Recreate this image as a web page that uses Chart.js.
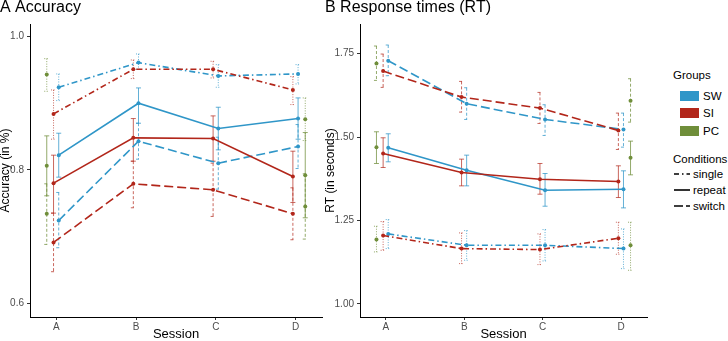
<!DOCTYPE html>
<html>
<head>
<meta charset="utf-8">
<script src="https://cdn.jsdelivr.net/npm/chart.js@4.4.1/dist/chart.umd.min.js"></script>
<style>
    body { margin: 0; width: 728px; height: 341px; background: #fff; position: relative; overflow: hidden;
           font-family: "Liberation Sans", Arial, sans-serif; }
    .panel { position: absolute; top: 0; width: 325px; height: 341px; }
    #panelA { left: 0; }
    #panelB { left: 325px; }
    .lg { position: absolute; font-size: 11.5px; color: #000; line-height: 12px; white-space: nowrap; }
    .sw { position: absolute; left: 680px; width: 19px; height: 10px; }
    .ln { position: absolute; left: 674px; }
</style>
</head>
<body>
<div class="panel" id="panelA"><canvas id="accChart"></canvas></div>
<div class="panel" id="panelB"><canvas id="rtChart"></canvas></div>

<div class="lg" style="left:673px; top:69px;">Groups</div>
<div class="sw" style="top:91px; background:#2F96C8;"></div>
<div class="lg" style="left:703px; top:90px;">SW</div>
<div class="sw" style="top:108px; background:#B2261A;"></div>
<div class="lg" style="left:703px; top:107px;">SI</div>
<div class="sw" style="top:126px; background:#6F8E3A;"></div>
<div class="lg" style="left:703px; top:125px;">PC</div>

<div class="lg" style="left:673px; top:153px;">Conditions</div>
<svg class="ln" style="top:171px" width="16" height="6"><line x1="0" y1="3" x2="16" y2="3" stroke="#000" stroke-width="1.6" stroke-dasharray="5,3,1.5,3"/></svg>
<div class="lg" style="left:693px; top:168px;">single</div>
<svg class="ln" style="top:187px" width="16" height="6"><line x1="0" y1="3" x2="16" y2="3" stroke="#000" stroke-width="1.6"/></svg>
<div class="lg" style="left:693px; top:184px;">repeat</div>
<svg class="ln" style="top:203px" width="16" height="6"><line x1="0" y1="3" x2="16" y2="3" stroke="#000" stroke-width="1.6" stroke-dasharray="9,3"/></svg>
<div class="lg" style="left:693px; top:200px;">switch</div>

<script>
const sessions = ['A', 'B', 'C', 'D'];
const accTicks = [0.6, 0.8, 1.0];
const rtTicks = [1.00, 1.25, 1.50, 1.75];

// Accuracy (A) -- null where the group was not tested
const accSWsingle = [0.924, 0.961, 0.941, 0.944];
const accSWsingleCI = [[0.904, 0.944], [0.951, 0.974], [0.924, 0.958], [0.929, 0.958]];
const accSIsingle = [0.884, 0.951, 0.951, 0.920];
const accSIsingleCI = [[0.846, 0.920], [0.937, 0.965], [0.938, 0.963], [0.898, 0.940]];
const accPCsingle = [0.943, null, null, 0.876];
const accPCsingleCI = [[0.918, 0.967], null, null, [0.844, 0.908]];

const accSWrepeat = [0.822, 0.900, 0.862, 0.877];
const accSWrepeatCI = [[0.789, 0.855], [0.870, 0.923], [0.830, 0.894], [0.846, 0.908]];
const accSIrepeat = [0.780, 0.848, 0.847, 0.790];
const accSIrepeatCI = [[0.735, 0.822], [0.813, 0.877], [0.813, 0.881], [0.751, 0.828]];
const accPCrepeat = [0.806, null, null, 0.792];
const accPCrepeatCI = [[0.761, 0.851], null, null, [0.728, 0.856]];

const accSWswitch = [0.724, 0.843, 0.810, 0.835];
const accSWswitchCI = [[0.683, 0.766], [0.816, 0.870], [0.771, 0.849], [0.802, 0.868]];
const accSIswitch = [0.691, 0.779, 0.770, 0.734];
const accSIswitchCI = [[0.647, 0.735], [0.743, 0.813], [0.730, 0.810], [0.695, 0.773]];
const accPCswitch = [0.734, null, null, 0.745];
const accPCswitchCI = [[0.688, 0.779], null, null, [0.696, 0.794]];

// Response times (B)
const rtSWsingle = [1.210, 1.176, 1.176, 1.166];
const rtSWsingleCI = [[1.166, 1.253], [1.131, 1.220], [1.129, 1.223], [1.106, 1.225]];
const rtSIsingle = [1.205, 1.166, 1.163, 1.197];
const rtSIsingleCI = [[1.161, 1.247], [1.121, 1.213], [1.118, 1.210], [1.149, 1.245]];
const rtPCsingle = [1.193, null, null, 1.176];
const rtPCsingleCI = [[1.156, 1.233], null, null, [1.101, 1.245]];

const rtSWrepeat = [1.468, 1.401, 1.341, 1.344];
const rtSWrepeatCI = [[1.426, 1.510], [1.354, 1.446], [1.293, 1.391], [1.288, 1.399]];
const rtSIrepeat = [1.451, 1.394, 1.374, 1.367];
const rtSIrepeatCI = [[1.409, 1.498], [1.354, 1.434], [1.329, 1.421], [1.319, 1.414]];
const rtPCrepeat = [1.470, null, null, 1.438];
const rtPCrepeatCI = [[1.421, 1.516], null, null, [1.387, 1.488]];

const rtSWswitch = [1.729, 1.600, 1.553, 1.523];
const rtSWswitchCI = [[1.684, 1.776], [1.553, 1.648], [1.505, 1.597], [1.470, 1.572]];
const rtSIswitch = [1.698, 1.620, 1.587, 1.520];
const rtSIswitchCI = [[1.649, 1.749], [1.575, 1.667], [1.541, 1.634], [1.463, 1.572]];
const rtPCswitch = [1.721, null, null, 1.609];
const rtPCswitchCI = [[1.670, 1.773], null, null, [1.545, 1.675]];

const colors = { SW: '#2F96C8', SI: '#B2261A', PC: '#6F8E3A' };
const errColors = { SW: 'rgba(47,150,200,0.75)', SI: 'rgba(178,38,26,0.7)', PC: 'rgba(111,142,58,0.75)' };
const lineDash = { single: [6, 3, 1.5, 3], repeat: [], switch: [9, 4] };
const errDash = { single: [1, 1.5], repeat: [], switch: [3, 2] };

// horizontal dodge so the groups don't sit on top of each other
function dodge(group, i) {
    if (group === 'PC') return i === 0 ? -0.12 : 0.12;
    return group === 'SI' ? -0.035 : 0.03;
}

function makeSet(group, cond, means, cis) {
    const pts = [];
    means.forEach((m, i) => {
        if (m === null) return;
        pts.push({ x: i + 1 + dodge(group, i), y: m, lo: cis[i][0], hi: cis[i][1] });
    });
    return {
        label: group + ' ' + cond,
        data: pts,
        showLine: group !== 'PC',
        borderColor: colors[group],
        backgroundColor: colors[group],
        borderWidth: 1.6,
        borderDash: lineDash[cond],
        pointRadius: 2,
        pointBorderWidth: 0,
        pointHoverRadius: 2,
        errColor: errColors[group],
        errDash: errDash[cond]
    };
}

const errorBars = {
    id: 'errorBars',
    beforeDatasetsDraw(chart) {
        const { ctx, scales: { x, y } } = chart;
        const cap = 2.5;
        chart.data.datasets.forEach(ds => {
            ctx.save();
            ctx.strokeStyle = ds.errColor;
            ctx.lineWidth = 1;
            ctx.setLineDash(ds.errDash);
            ds.data.forEach(p => {
                const px = x.getPixelForValue(p.x);
                const top = y.getPixelForValue(p.hi);
                const bot = y.getPixelForValue(p.lo);
                ctx.beginPath();
                ctx.moveTo(px, top); ctx.lineTo(px, bot);
                ctx.moveTo(px - cap, top); ctx.lineTo(px + cap, top);
                ctx.moveTo(px - cap, bot); ctx.lineTo(px + cap, bot);
                ctx.stroke();
            });
            ctx.restore();
        });
    }
};

function makeConfig(title, yTitle, yMin, yMax, yTicks, yDigits, yWidth, datasets) {
    return {
        type: 'scatter',
        data: { datasets: datasets },
        plugins: [errorBars],
        options: {
            responsive: true,
            maintainAspectRatio: false,
            animation: false,
            layout: { padding: { left: 0, right: 3, top: 0, bottom: 0 } },
            plugins: {
                legend: { display: false },
                tooltip: { enabled: false },
                title: {
                    display: true,
                    text: title,
                    align: 'start',
                    color: '#000',
                    font: { size: 16, family: '"Liberation Sans", Arial, sans-serif', weight: 'normal', lineHeight: 1 },
                    padding: { top: 0, bottom: 8 }
                }
            },
            scales: {
                x: {
                    type: 'linear',
                    min: 0.67,
                    max: 4.33,
                    afterBuildTicks: s => { s.ticks = sessions.map((_, i) => ({ value: i + 1 })); },
                    afterFit: s => { s.height = 24; },
                    ticks: {
                        callback: v => sessions[v - 1],
                        color: '#4D4D4D',
                        font: { size: 10, family: '"Liberation Sans", Arial, sans-serif' },
                        padding: 1,
                        maxRotation: 0
                    },
                    grid: { drawOnChartArea: false, drawTicks: true, tickLength: 3, color: '#333' },
                    border: { display: true, color: '#000', width: 1 },
                    title: {
                        display: true,
                        text: 'Session',
                        color: '#000',
                        font: { size: 13, family: '"Liberation Sans", Arial, sans-serif', lineHeight: 1 },
                        padding: 0
                    }
                },
                y: {
                    min: yMin,
                    max: yMax,
                    afterBuildTicks: s => { s.ticks = yTicks.map(v => ({ value: v })); },
                    afterFit: s => { s.width = yWidth; },
                    ticks: {
                        callback: v => v.toFixed(yDigits),
                        color: '#4D4D4D',
                        font: { size: 10, family: '"Liberation Sans", Arial, sans-serif' },
                        padding: 3
                    },
                    grid: { drawOnChartArea: false, drawTicks: true, tickLength: 3, color: '#333' },
                    border: { display: true, color: '#000', width: 1 },
                    title: {
                        display: true,
                        text: yTitle,
                        color: '#000',
                        font: { size: 12, family: '"Liberation Sans", Arial, sans-serif', lineHeight: 1 },
                        padding: 0
                    }
                }
            }
        }
    };
}

const accSets = [
    makeSet('PC', 'single', accPCsingle, accPCsingleCI),
    makeSet('PC', 'repeat', accPCrepeat, accPCrepeatCI),
    makeSet('PC', 'switch', accPCswitch, accPCswitchCI),
    makeSet('SI', 'single', accSIsingle, accSIsingleCI),
    makeSet('SI', 'repeat', accSIrepeat, accSIrepeatCI),
    makeSet('SI', 'switch', accSIswitch, accSIswitchCI),
    makeSet('SW', 'single', accSWsingle, accSWsingleCI),
    makeSet('SW', 'repeat', accSWrepeat, accSWrepeatCI),
    makeSet('SW', 'switch', accSWswitch, accSWswitchCI)
];

const rtSets = [
    makeSet('PC', 'single', rtPCsingle, rtPCsingleCI),
    makeSet('PC', 'repeat', rtPCrepeat, rtPCrepeatCI),
    makeSet('PC', 'switch', rtPCswitch, rtPCswitchCI),
    makeSet('SI', 'single', rtSIsingle, rtSIsingleCI),
    makeSet('SI', 'repeat', rtSIrepeat, rtSIrepeatCI),
    makeSet('SI', 'switch', rtSIswitch, rtSIswitchCI),
    makeSet('SW', 'single', rtSWsingle, rtSWsingleCI),
    makeSet('SW', 'repeat', rtSWrepeat, rtSWrepeatCI),
    makeSet('SW', 'switch', rtSWswitch, rtSWswitchCI)
];

new Chart(document.getElementById('accChart'),
    makeConfig('A Accuracy', 'Accuracy (in %)', 0.579, 1.019, accTicks, 1, 30, accSets));
new Chart(document.getElementById('rtChart'),
    makeConfig('B Response times (RT)', 'RT (in seconds)', 0.961, 1.839, rtTicks, 2, 35, rtSets));
</script>
</body>
</html>
